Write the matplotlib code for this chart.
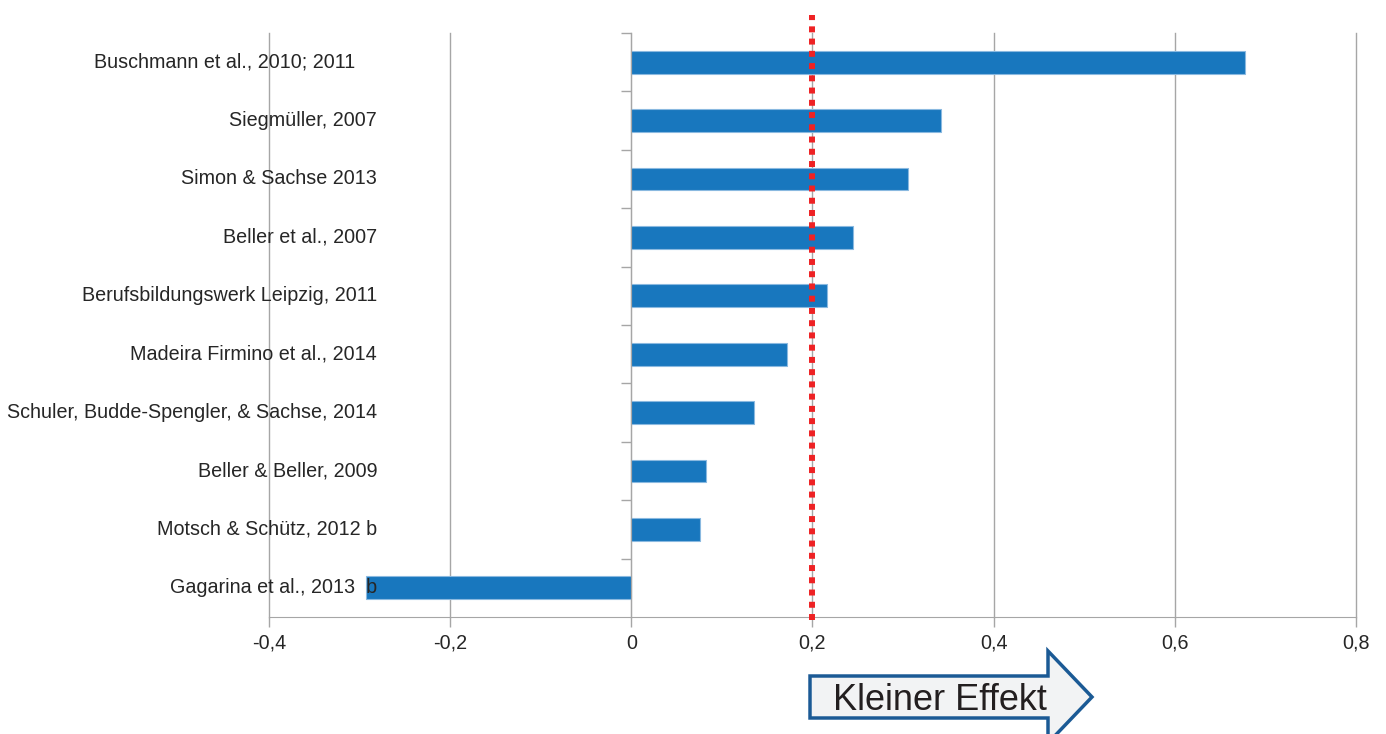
import matplotlib
matplotlib.use("Agg")
import matplotlib.pyplot as plt
from matplotlib.patches import Polygon
import numpy as np

plt.rcParams['font.family'] = ['Liberation Sans', 'DejaVu Sans']

# Studies (top to bottom) and their effect sizes
studies = [
    "Buschmann et al., 2010; 2011    ",
    "Siegmüller, 2007",
    "Simon & Sachse 2013",
    "Beller et al., 2007",
    "Berufsbildungswerk Leipzig, 2011",
    "Madeira Firmino et al., 2014",
    "Schuler, Budde-Spengler, & Sachse, 2014",
    "Beller & Beller, 2009",
    "Motsch & Schütz, 2012 b",
    "Gagarina et al., 2013  b",
]
effects = [0.677, 0.342, 0.305, 0.245, 0.216, 0.172, 0.135, 0.082, 0.076, -0.293]
x_ticks = [-0.4, -0.2, 0, 0.2, 0.4, 0.6, 0.8]
x_tick_labels = ["-0,4", "-0,2", "0", "0,2", "0,4", "0,6", "0,8"]
small_effect = 0.2
arrow_label = "Kleiner Effekt"

W, H = 1386, 734
fig = plt.figure(figsize=(W / 100, H / 100), dpi=100)
ax = fig.add_axes([269 / W, (H - 617) / H, (1356 - 269) / W, (617 - 33) / H])

grey = "#a6a6a6"
text_col = "#262626"
fs = 14.2

n = len(studies)
ypos = np.arange(n)[::-1]
ax.barh(ypos, effects, height=0.39, color="#1877be",
        edgecolor="#8ab9e0", linewidth=0.8, zorder=3)

ax.set_xlim(-0.4, 0.8)
ax.set_ylim(-0.5, n - 0.5)

# vertical gridlines
ax.set_xticks(x_ticks)
ax.set_xticklabels(x_tick_labels, fontsize=fs, color=text_col)
ax.grid(axis="x", color=grey, linewidth=1.0, zorder=0)
for gl in ax.xaxis.get_gridlines():
    gl.set_clip_on(False)
ax.tick_params(axis="x", length=7, width=1.0, color=grey, pad=5)

# category axis sits at x = 0 with ticks between categories
for s in ["top", "right"]:
    ax.spines[s].set_visible(False)
ax.spines["left"].set_position(("data", 0))
ax.spines["left"].set_color(grey)
ax.spines["left"].set_zorder(4)
ax.spines["bottom"].set_color(grey)
ax.set_yticks(np.arange(-0.5, n, 1.0)[1:])
ax.set_yticklabels([])
ax.tick_params(axis="y", length=7, width=1.0, color=grey)

# category labels, right aligned at a fixed position
for name, y in zip(studies, ypos):
    ax.text(0.0994, y, name, transform=ax.get_yaxis_transform(),
            ha="right", va="center", fontsize=fs, color=text_col, zorder=5)

# small effect threshold
ax.plot([small_effect, small_effect], [-0.55, n - 0.5 + 0.3], color="#ee2224",
        linewidth=4.3, linestyle=(0, (1, 1.05)), zorder=6, clip_on=False,
        solid_capstyle="butt", dash_capstyle="butt")

# arrow annotation below the axis
px = [(810, 676), (1048, 676), (1048, 651), (1092, 697), (1048, 743),
      (1048, 718), (810, 718)]
pts = [(x / W, (H - y) / H) for x, y in px]
fig.patches.append(Polygon(pts, closed=True, transform=fig.transFigure,
                           facecolor="#f2f3f4", edgecolor="#1b5a95",
                           linewidth=2.5, joinstyle="miter"))
fig.text(940 / W, (H - 700) / H, arrow_label, ha="center", va="center",
         fontsize=26, color="#231f20")

fig.savefig("out.png", dpi=100)
